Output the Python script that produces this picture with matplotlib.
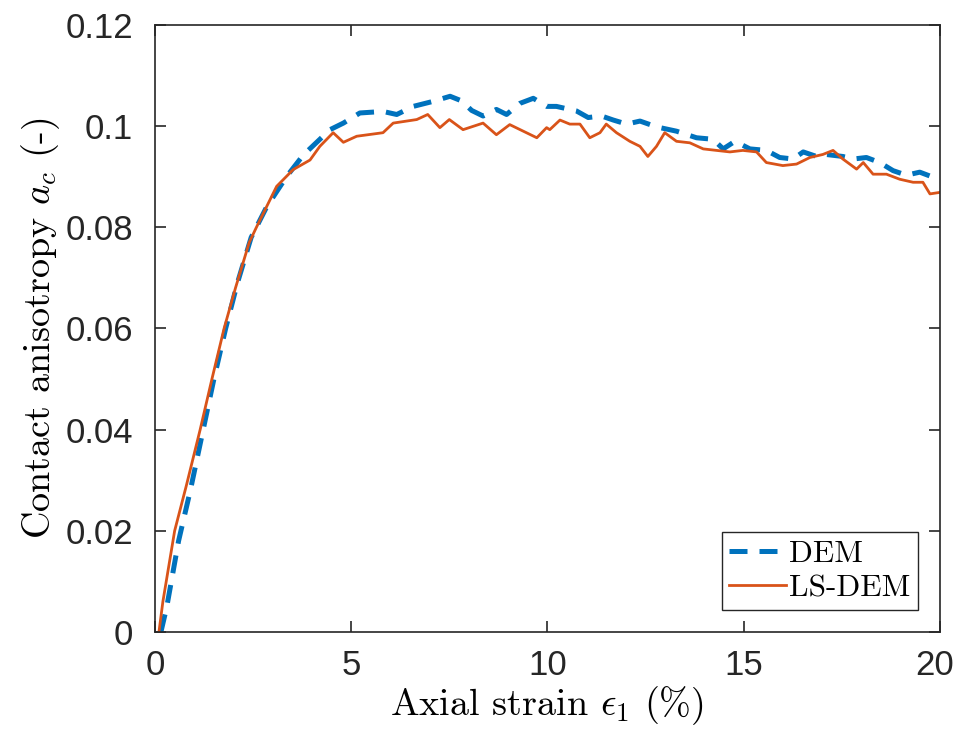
import matplotlib
matplotlib.use("Agg")
import matplotlib.pyplot as plt
from matplotlib.transforms import ScaledTranslation

# values
dem_strain = [0.15, 0.3, 0.6, 0.9, 1.2, 1.5, 1.8, 2.1, 2.45, 2.85, 3.35, 3.78, 4.12, 4.46,
              4.8, 5.22, 5.81, 6.16, 6.58, 7.09, 7.52, 7.81, 8.07, 8.36, 8.7, 8.96, 9.3,
              9.64, 9.98, 10.23, 10.74, 11.04, 11.38, 11.68, 12.02, 12.36, 12.69, 12.87,
              13.29, 13.8, 14.22, 14.48, 14.78, 15.16, 15.58, 15.92, 16.26, 16.52, 16.86,
              17.1, 17.53, 17.8, 18.13, 18.47, 18.81, 19.15, 19.49, 19.83, 20.0]
dem_ac = [0.0, 0.005, 0.018, 0.028, 0.039, 0.05, 0.06, 0.069, 0.078, 0.0841, 0.090, 0.0943,
          0.0968, 0.0993, 0.1006, 0.1026, 0.1029, 0.1023, 0.1039, 0.1049, 0.1059, 0.105,
          0.1031, 0.102, 0.1033, 0.1023, 0.1045, 0.1055, 0.1039, 0.1039, 0.103, 0.1017,
          0.102, 0.1012, 0.1004, 0.101, 0.1001, 0.0997, 0.099, 0.0977, 0.0974, 0.0955,
          0.097, 0.0955, 0.0952, 0.0938, 0.0935, 0.0949, 0.094, 0.0944, 0.094, 0.0935,
          0.0938, 0.0928, 0.0912, 0.0903, 0.0909, 0.0899, 0.0905]

lsdem_strain = [0.1, 0.2, 0.5, 0.8, 1.15, 1.45, 1.76, 2.05, 2.4, 2.59, 3.1, 3.52, 3.95, 4.2,
                4.54, 4.8, 5.14, 5.81, 6.07, 6.67, 6.95, 7.26, 7.5, 7.85, 8.36, 8.7, 9.04,
                9.73, 9.98, 10.06, 10.32, 10.57, 10.83, 11.08, 11.34, 11.5, 11.76, 12.1,
                12.36, 12.56, 12.78, 12.99, 13.29, 13.63, 13.97, 14.31, 14.65, 14.98, 15.33,
                15.58, 16.0, 16.35, 16.69, 17.02, 17.28, 17.53, 17.88, 18.05, 18.3, 18.64,
                18.98, 19.32, 19.57, 19.75, 20.0]
lsdem_ac = [0.0, 0.006, 0.02, 0.029, 0.04, 0.05, 0.06, 0.068, 0.077, 0.0801, 0.0881, 0.0914,
            0.0933, 0.096, 0.0987, 0.0968, 0.098, 0.0987, 0.1006, 0.1013, 0.1023, 0.0997,
            0.1013, 0.0993, 0.1006, 0.0983, 0.1003, 0.0977, 0.0997, 0.0993, 0.1012, 0.1004,
            0.1004, 0.0977, 0.0987, 0.1004, 0.0987, 0.097, 0.096, 0.094, 0.096, 0.0987,
            0.097, 0.0967, 0.0955, 0.0952, 0.0949, 0.0952, 0.0949, 0.0928, 0.0922, 0.0925,
            0.0938, 0.0944, 0.0952, 0.0935, 0.0915, 0.0928, 0.0905, 0.0905, 0.0895, 0.0889,
            0.0889, 0.0866, 0.0869]

xticks = [0, 5, 10, 15, 20]
yticks = [0, 0.02, 0.04, 0.06, 0.08, 0.1, 0.12]
ytick_labels = ['0', '0.02', '0.04', '0.06', '0.08', '0.1', '0.12']

plt.rcParams['mathtext.fontset'] = 'cm'
plt.rcParams['font.family'] = ['Liberation Sans', 'DejaVu Sans']

fig = plt.figure(figsize=(9.57, 7.34), dpi=100)
ax = fig.add_axes([0.162, 0.139, 0.820, 0.827])

ax.plot(dem_strain, dem_ac, color='#0072BD', linestyle=(0, (3.6, 2.4)), linewidth=3.6, label='DEM')
ax.plot(lsdem_strain, lsdem_ac, color='#D95319', linewidth=2.0, label='LS-DEM')

ax.set_xlim(0, 20)
ax.set_ylim(0, 0.12)
ax.set_xticks(xticks)
ax.set_yticks(yticks)
ax.set_yticklabels(ytick_labels)
ax.tick_params(direction='in', length=8, width=1.2, labelsize=25, colors='#262626',
               top=True, right=True)
ax.tick_params(axis='x', pad=12)
ax.tick_params(axis='y', pad=16)
for sp in ax.spines.values():
    sp.set_color('#262626')
    sp.set_linewidth(1.2)

# last x label sits a bit left so it stays inside the figure
last = ax.get_xticklabels()[-1]
last.set_transform(last.get_transform() + ScaledTranslation(-4 / 72, 0, fig.dpi_scale_trans))

ax.set_xlabel(r'Axial strain $\epsilon_1$ (%)', fontsize=27.5, family='cmr10', labelpad=2)
ax.set_ylabel(r'Contact anisotropy $a_c$ (-)', fontsize=27.5, family='cmr10', labelpad=2)

leg = ax.legend(loc='lower right', prop={'family': 'cmr10', 'size': 22.5}, fancybox=False,
                framealpha=1, edgecolor='#262626', borderaxespad=0.7, handlelength=1.8,
                borderpad=0.25, labelspacing=0.2, handletextpad=0.1)
leg.get_frame().set_linewidth(1.0)

fig.savefig('out.png', dpi=100)
